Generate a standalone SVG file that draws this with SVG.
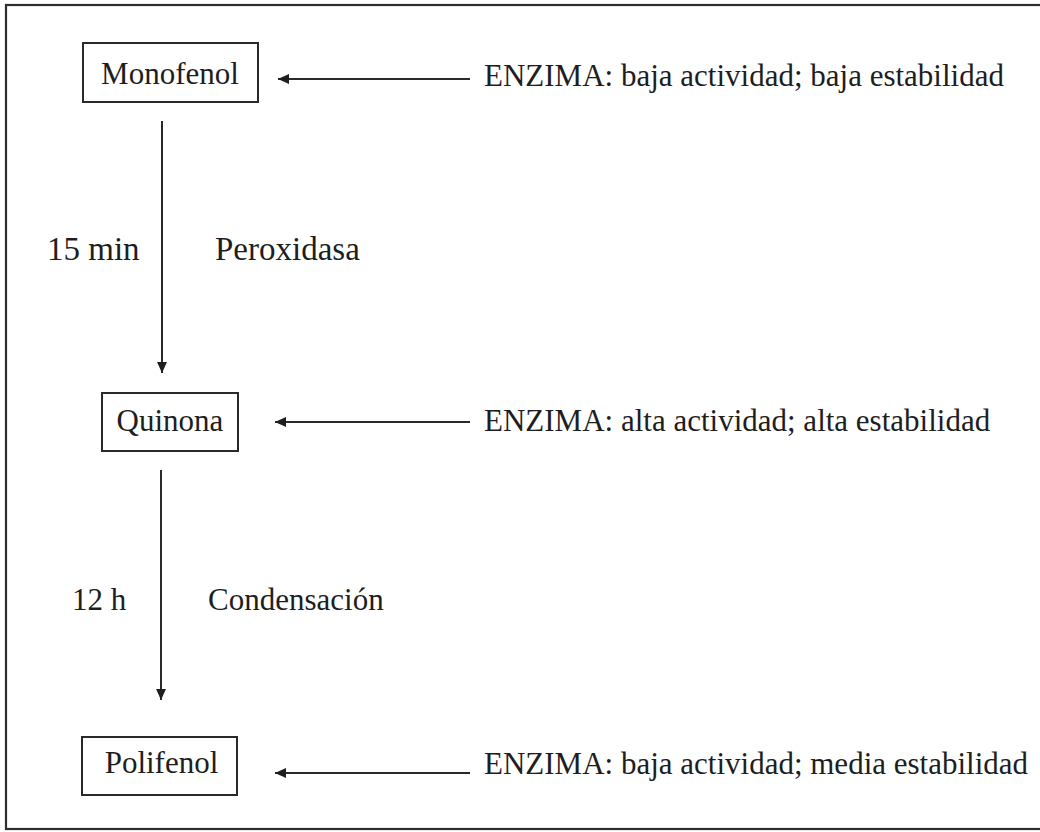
<svg xmlns="http://www.w3.org/2000/svg" width="1040" height="832" viewBox="0 0 1040 832">
  <defs>
    <style>
      .frame { fill: none; stroke: #2e2e2e; stroke-width: 2.2; }
      .box { fill: #ffffff; stroke: #2a2a2a; stroke-width: 2; }
      .lbl { font-family: "Liberation Serif", "Times New Roman", serif; font-size: 31px; fill: #1e1e1e; }
      .step { font-size: 33px; }
      .edge { stroke: #2a2a2a; stroke-width: 2; fill: none; marker-end: url(#head); }
    </style>
    <marker id="head" viewBox="0 0 10 10" refX="10" refY="5" markerWidth="11" markerHeight="11" markerUnits="userSpaceOnUse" orient="auto">
      <path d="M0,0.5 L10,5 L0,9.5 Z" fill="#1e1e1e"/>
    </marker>
  </defs>

  <rect width="1040" height="832" fill="#ffffff"/>
  <!-- outer frame; right side runs past the page edge -->
  <rect class="frame" x="6" y="5" width="1040" height="824"/>

  <!-- connectors -->
  <g id="connectors">
    <line class="edge" x1="162" y1="121" x2="162" y2="373"/>
    <line class="edge" x1="161" y1="470" x2="161" y2="700"/>
    <line class="edge" x1="470" y1="79" x2="278" y2="79"/>
    <line class="edge" x1="470" y1="422" x2="275" y2="422"/>
    <line class="edge" x1="470" y1="773" x2="275" y2="773"/>
  </g>

  <!-- step labels -->
  <g id="step1-labels">
    <text class="lbl step" x="47" y="260">15 min</text>
    <text class="lbl step" x="215" y="260">Peroxidasa</text>
  </g>
  <g id="step2-labels">
    <text class="lbl" x="72" y="610">12 h</text>
    <text class="lbl" x="208" y="610">Condensación</text>
  </g>

  <!-- compounds -->
  <g id="monofenol">
    <rect class="box" x="83" y="43" width="175" height="59"/>
    <text class="lbl" x="170" y="84" text-anchor="middle">Monofenol</text>
  </g>
  <g id="quinona">
    <rect class="box" x="102" y="393" width="136" height="58"/>
    <text class="lbl" x="170" y="431" text-anchor="middle">Quinona</text>
  </g>
  <g id="polifenol">
    <rect class="box" x="82" y="737" width="155" height="58"/>
    <text class="lbl" x="161.5" y="773" text-anchor="middle">Polifenol</text>
  </g>

  <!-- enzyme notes -->
  <g id="enzima-1">
    <text class="lbl" x="484" y="86">ENZIMA: baja actividad; baja estabilidad</text>
  </g>
  <g id="enzima-2">
    <text class="lbl" x="484" y="431">ENZIMA: alta actividad; alta estabilidad</text>
  </g>
  <g id="enzima-3">
    <text class="lbl" x="484" y="774">ENZIMA: baja actividad; media estabilidad</text>
  </g>
</svg>
